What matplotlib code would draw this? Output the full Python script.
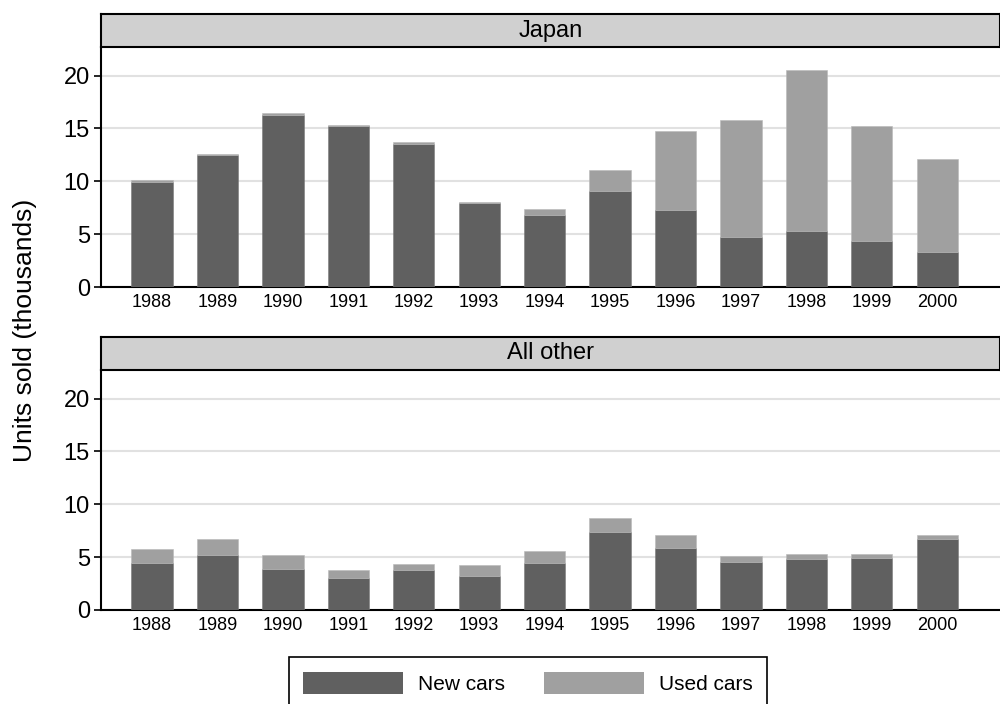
import numpy as np
import matplotlib
matplotlib.use("Agg")
import matplotlib.pyplot as plt

plt.rcParams["font.family"] = ["Liberation Sans", "DejaVu Sans"]

years = ["1988", "1989", "1990", "1991", "1992", "1993", "1994",
         "1995", "1996", "1997", "1998", "1999", "2000"]

# Japan
japan_new = [9.95, 12.5, 16.3, 15.2, 13.55, 7.92, 6.85, 9.08, 7.3, 4.7, 5.3, 4.32, 3.31]
japan_used = [0.14, 0.12, 0.15, 0.13, 0.14, 0.15, 0.53, 1.99, 7.43, 11.1, 15.26, 10.9, 8.77]

# All other
other_new = [4.48, 5.24, 3.91, 3.06, 3.82, 3.25, 4.42, 7.36, 5.9, 4.58, 4.8, 4.9, 6.7]
other_used = [1.33, 1.49, 1.3, 0.7, 0.51, 0.98, 1.17, 1.36, 1.18, 0.57, 0.51, 0.44, 0.44]

panels = [("Japan", japan_new, japan_used), ("All other", other_new, other_used)]

c_new = "#606060"
c_used = "#a0a0a0"

fig = plt.figure(figsize=(10, 7.04), dpi=100)
W, H = 1000, 704

# pixel boxes: (left, top, right, bottom) for plot area, strip height
boxes = [(101, 47, 1000, 287), (101, 370, 1000, 610)]
strip_h = 33

x = np.arange(len(years))
for (title, new, used), (l, t, r, b) in zip(panels, boxes):
    ax = fig.add_axes([l / W, 1 - b / H, (r - l) / W, (b - t) / H])
    ax.bar(x, new, width=0.63, color=c_new, edgecolor="#7a7a7a", linewidth=0.4, zorder=3)
    ax.bar(x, used, bottom=new, width=0.63, color=c_used, edgecolor="#b8b8b8", linewidth=0.4, zorder=3)
    ax.set_xlim(-0.78, 12.96)
    ax.set_ylim(0, 22.7)
    ax.set_yticks([0, 5, 10, 15, 20])
    ax.set_xticks(x)
    ax.set_xticklabels(years)
    ax.yaxis.grid(True, color="#e1e1e1", linewidth=1.5, zorder=0)
    ax.set_axisbelow(True)
    for s in ["top", "right"]:
        ax.spines[s].set_visible(False)
    ax.spines["left"].set_linewidth(1.5)
    ax.spines["bottom"].set_linewidth(1.5)
    ax.tick_params(axis="y", direction="out", length=5, width=1.2, labelsize=17, pad=3)
    ax.tick_params(axis="x", length=0, labelsize=13, pad=5)

    # strip header
    sax = fig.add_axes([l / W, 1 - t / H, (r - l) / W, strip_h / H])
    sax.set_facecolor("#d0d0d0")
    sax.set_xticks([])
    sax.set_yticks([])
    for s in sax.spines.values():
        s.set_linewidth(1.5)
        s.set_color("black")
    sax.text(0.5, 0.5, title, ha="center", va="center", fontsize=17, transform=sax.transAxes)

fig.text(0.025, 1 - 330 / H, "Units sold (thousands)", rotation=90,
         ha="center", va="center", fontsize=19)

handles = [plt.Rectangle((0, 0), 1, 1, facecolor=c_new),
           plt.Rectangle((0, 0), 1, 1, facecolor=c_used)]
leg = fig.legend(handles, ["New cars", "Used cars"], loc="upper center",
                 bbox_to_anchor=(528 / W, 1 - 657 / H), ncol=2, fontsize=15,
                 handlelength=4.8, handleheight=1.3, handletextpad=0.7,
                 columnspacing=1.9, fancybox=False, framealpha=1,
                 edgecolor="black", borderpad=0.7, borderaxespad=0)
leg.get_frame().set_linewidth(1.2)

fig.savefig("out.png", dpi=100)
